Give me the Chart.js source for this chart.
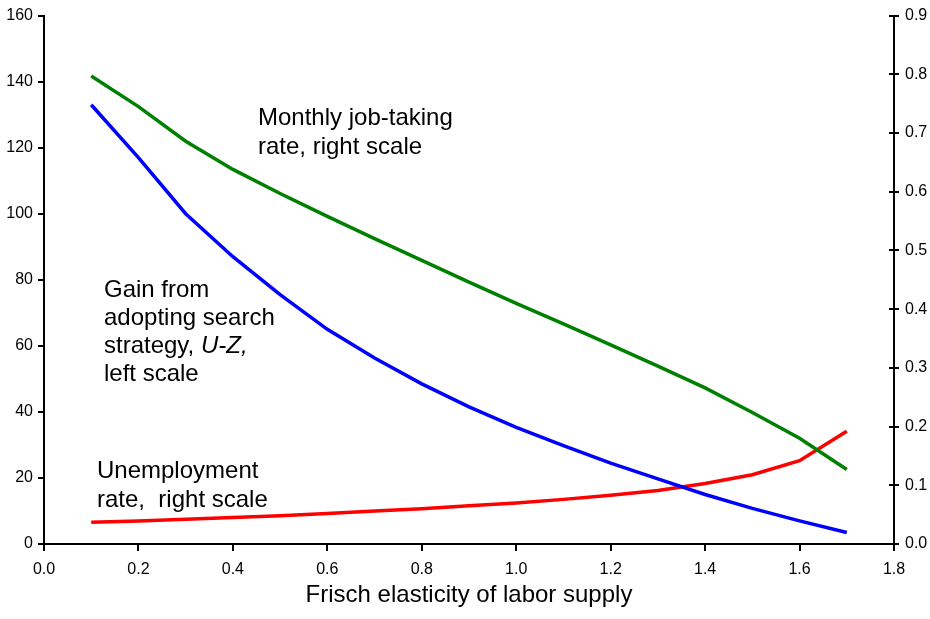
<!DOCTYPE html>
<html>
<head>
<meta charset="utf-8">
<script src="https://cdn.jsdelivr.net/npm/chart.js@4/dist/chart.umd.min.js"></script>
<style>
  html, body { margin: 0; padding: 0; background: #fff; }
  #wrap { width: 930px; height: 619px; position: relative; }
</style>
</head>
<body>
<div id="wrap"><canvas id="chart"></canvas></div>
<script>
"use strict";

// Frisch elasticity values (x)
const elasticity = [0.1, 0.2, 0.3, 0.4, 0.5, 0.6, 0.7, 0.8, 0.9, 1.0, 1.1, 1.2, 1.3, 1.4, 1.5, 1.6, 1.7];
// Gain from adopting search strategy, U-Z (left scale)
const gainUZ = [133, 117, 100, 87, 75.5, 65, 56.3, 48.5, 41.5, 35.3, 29.8, 24.5, 19.7, 15, 10.8, 7, 3.5];
// Monthly job-taking rate (right scale)
const jobRate = [0.797, 0.745, 0.686, 0.638, 0.597, 0.558, 0.52, 0.483, 0.446, 0.41, 0.375, 0.339, 0.303, 0.266, 0.224, 0.18, 0.127];
// Unemployment rate (right scale)
const unempRate = [0.037, 0.039, 0.042, 0.045, 0.048, 0.052, 0.056, 0.06, 0.065, 0.07, 0.076, 0.083, 0.091, 0.103, 0.118, 0.142, 0.192];

const xTitle = "Frisch elasticity of labor supply";

const FONT = '"Liberation Sans", Arial, sans-serif';
const pts = (ys) => elasticity.map((x, i) => ({ x, y: ys[i] }));

// text labels inside the plot: [text parts], left x, baseline y
const notes = [
  { x: 258, y: 125, parts: [["Monthly job-taking", false]] },
  { x: 258, y: 154, parts: [["rate, right scale", false]] },
  { x: 104, y: 297, parts: [["Gain from", false]] },
  { x: 104, y: 325, parts: [["adopting search", false]] },
  { x: 104, y: 353, parts: [["strategy, ", false], ["U-Z,", true]] },
  { x: 104, y: 381, parts: [["left scale", false]] },
  { x: 97, y: 478, parts: [["Unemployment", false]] },
  { x: 97, y: 507, parts: [["rate,  right scale", false]] },
];

const extras = {
  id: "extras",
  afterDraw(chart) {
    const ctx = chart.ctx;
    const r = chart.scales.y2;
    ctx.save();
    // right axis ticks cross the axis line
    ctx.strokeStyle = "#000";
    ctx.lineWidth = 2;
    r.ticks.forEach((t) => {
      const py = Math.round(r.getPixelForValue(t.value));
      ctx.beginPath();
      ctx.moveTo(r.left - 5, py);
      ctx.lineTo(r.left, py);
      ctx.stroke();
    });
    ctx.fillStyle = "#000";
    ctx.textBaseline = "alphabetic";
    notes.forEach((n) => {
      let x = n.x;
      n.parts.forEach(([txt, it]) => {
        ctx.font = (it ? "italic " : "") + "24px " + FONT;
        ctx.fillText(txt, x, n.y);
        x += ctx.measureText(txt).width;
      });
    });
    ctx.restore();
  },
};

const line = (data, color, axis) => ({
  data: pts(data),
  yAxisID: axis,
  borderColor: color,
  backgroundColor: color,
  borderWidth: 3.5,
  pointRadius: 0,
  tension: 0,
  fill: false,
});

new Chart(document.getElementById("chart"), {
  type: "line",
  data: {
    datasets: [
      line(jobRate, "#008000", "y2"),
      line(gainUZ, "#0000ff", "y"),
      line(unempRate, "#ff0000", "y2"),
    ],
  },
  options: {
    responsive: true,
    maintainAspectRatio: false,
    animation: false,
    layout: { padding: { top: 13, left: 0, right: 0, bottom: 0 } },
    plugins: { legend: { display: false }, tooltip: { enabled: false } },
    scales: {
      x: {
        type: "linear",
        min: 0,
        max: 1.8,
        ticks: { stepSize: 0.2, color: "#000", font: { family: FONT, size: 16 }, padding: 9, callback: (v) => v.toFixed(1) },
        grid: { drawOnChartArea: false, color: "#000", lineWidth: 2, tickLength: 7 },
        border: { color: "#000", width: 2 },
        title: { display: true, text: xTitle, color: "#000", font: { family: FONT, size: 24 }, padding: { top: 0, bottom: 9 } },
        afterFit: (s) => { s.height = 75; },
      },
      y: {
        position: "left",
        min: 0,
        max: 160,
        ticks: { stepSize: 20, color: "#000", font: { family: FONT, size: 16 }, padding: 5 },
        grid: { drawOnChartArea: false, color: "#000", lineWidth: 2, tickLength: 6 },
        border: { color: "#000", width: 2 },
        afterFit: (s) => { s.width = 44; },
      },
      y2: {
        position: "right",
        min: 0,
        max: 0.9,
        ticks: { stepSize: 0.1, color: "#000", font: { family: FONT, size: 16 }, padding: 6, callback: (v) => v.toFixed(1) },
        grid: { drawOnChartArea: false, color: "#000", lineWidth: 2, tickLength: 5 },
        border: { color: "#000", width: 2 },
        afterFit: (s) => { s.width = 36; },
      },
    },
  },
  plugins: [extras],
});
</script>
</body>
</html>
